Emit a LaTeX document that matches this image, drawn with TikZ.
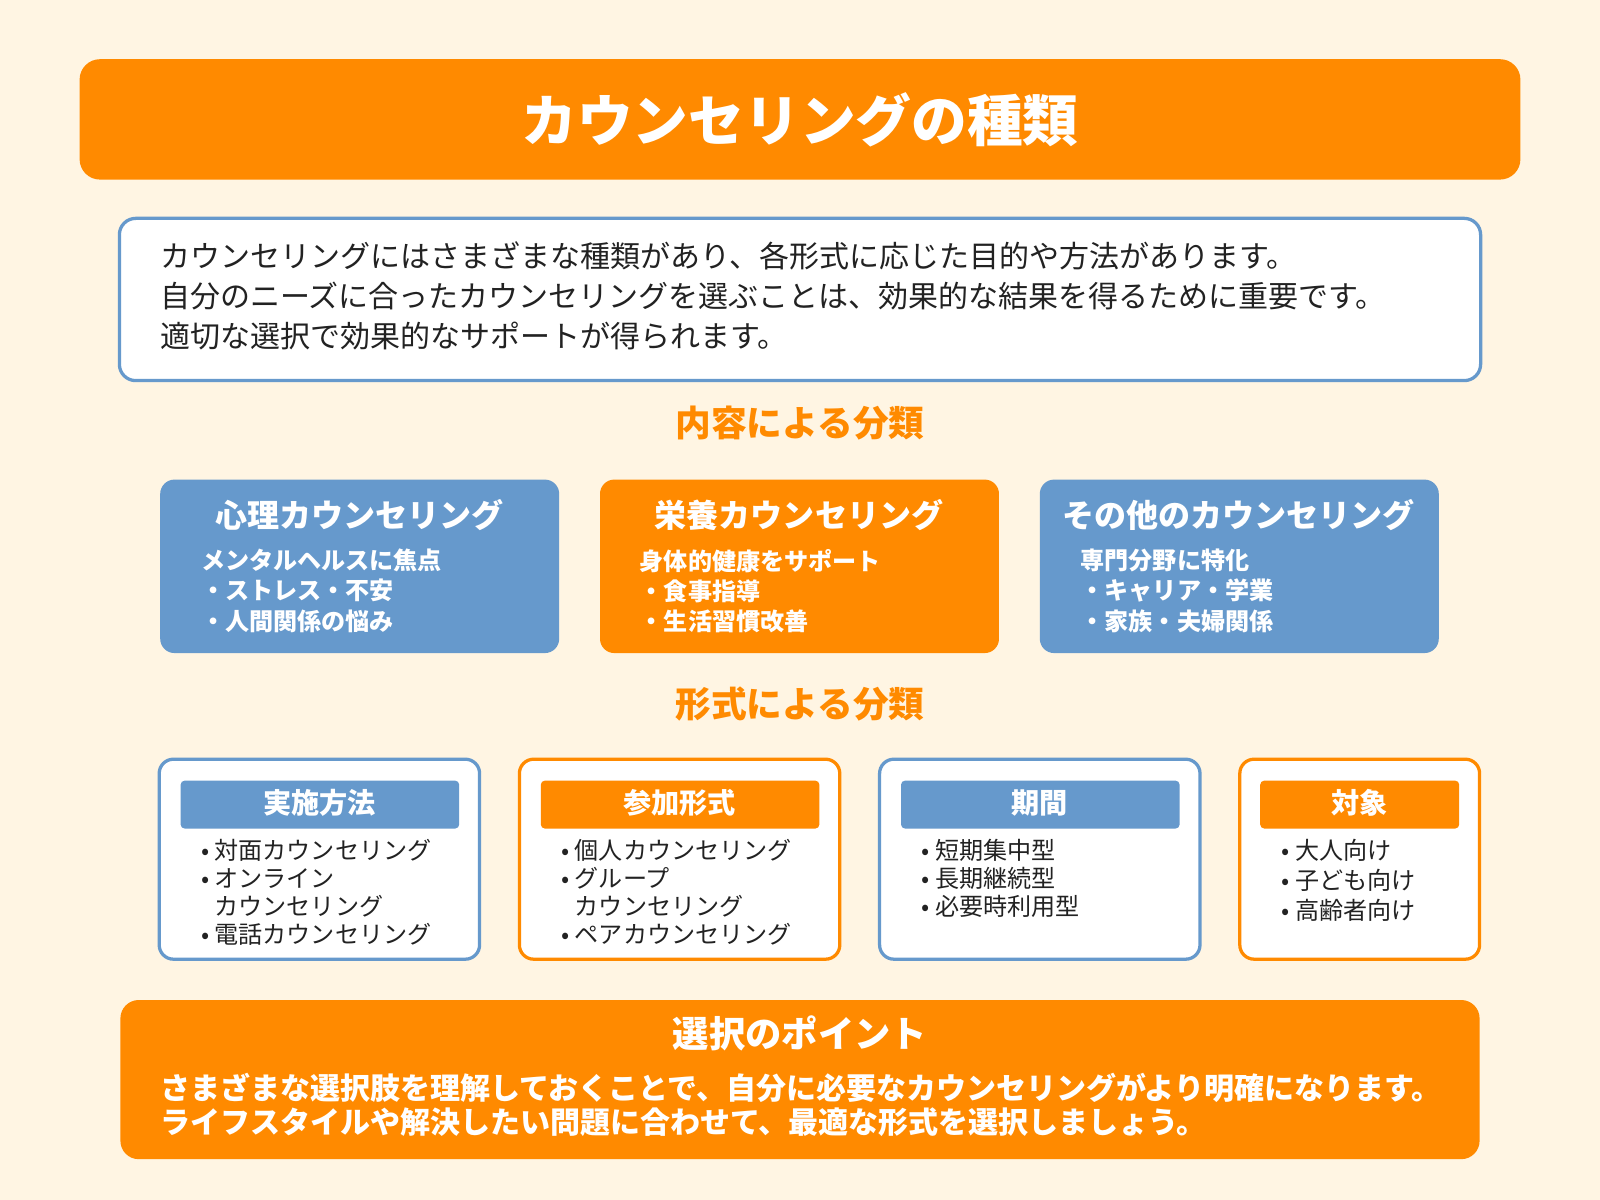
\documentclass[tikz,border=0pt]{standalone}
\usepackage{fontspec}
\setmainfont{Noto Sans CJK JP}
\definecolor{bg}{HTML}{FFF5E3}
\definecolor{org}{HTML}{FF8A00}
\definecolor{blu}{HTML}{6699CC}
\definecolor{txt}{HTML}{222222}
\begin{document}
\begin{tikzpicture}[x=0.5pt,y=-0.5pt,
  sec/.style={text=org,font=\fontsize{17.5}{20}\selectfont\bfseries},
  catbox/.style={rounded corners=7pt,draw=none},
  cattitle/.style={text=white,font=\fontsize{15.7}{18}\selectfont\bfseries},
  catbody/.style={text=white,anchor=north west,align=left,font=\fontsize{11.8}{14.8}\selectfont\bfseries},
  fbox/.style={rounded corners=7pt,fill=white,line width=1.6pt},
  fhead/.style={rounded corners=2pt,text=white,font=\fontsize{13.8}{15}\selectfont\bfseries},
  fbody/.style={text=txt,anchor=north west,align=left,font=\fontsize{11.8}{13.8}\selectfont}]
\fill[bg] (0,0) rectangle (1568,1176);
\useasboundingbox (0,0) rectangle (1568,1176);
\fill[org,rounded corners=10pt] (78,58) rectangle (1490,176);
\node[text=white,font=\fontsize{27.3}{30}\selectfont\bfseries] (title) at (784,117) {カウンセリングの種類};
\draw[blu,fill=white,line width=1.6pt,rounded corners=8pt] (117,214) rectangle (1451,373);
\node[anchor=north west,align=left,text=txt,font=\fontsize{14.7}{19.5}\selectfont] (desc) at (150,230) {カウンセリングにはさまざまな種類があり、各形式に応じた目的や方法があります。\\自分のニーズに合ったカウンセリングを選ぶことは、効果的な結果を得るために重要です。\\適切な選択で効果的なサポートが得られます。};
\node[sec] (s1) at (784,415) {内容による分類};
\node[sec] (s2) at (784,690) {形式による分類};
\fill[blu,catbox] (157,470) rectangle (548,640);
\fill[org,catbox] (588,470) rectangle (979,640);
\fill[blu,catbox] (1019,470) rectangle (1410,640);
\node[cattitle] (c1) at (352,505) {心理カウンセリング};
\node[cattitle] (c2) at (783,505) {栄養カウンセリング};
\node[cattitle] (c3) at (1214,505) {その他のカウンセリング};
\node[catbody] (b1) at (190,531) {メンタルヘルスに焦点\\・ストレス・不安\\・人間関係の悩み};
\node[catbody] (b2) at (620,531) {身体的健康をサポート\\・食事指導\\・生活習慣改善};
\node[catbody] (b3) at (1052,531) {専門分野に特化\\・キャリア・学業\\・家族・夫婦関係};
\draw[fbox,draw=blu] (156,744) rectangle (470,940);
\draw[fbox,draw=org] (509,744) rectangle (823,940);
\draw[fbox,draw=blu] (862,744) rectangle (1176,940);
\draw[fbox,draw=org] (1215,744) rectangle (1450,940);
\fill[blu,rounded corners=2pt] (177,765) rectangle (450,812);
\fill[org,rounded corners=2pt] (530,765) rectangle (803,812);
\fill[blu,rounded corners=2pt] (883,765) rectangle (1156,812);
\fill[org,rounded corners=2pt] (1235,765) rectangle (1430,812);
\node[fhead] (h1) at (313,787) {実施方法};
\node[fhead] (h2) at (666,787) {参加形式};
\node[fhead] (h3) at (1019,787) {期間};
\node[fhead] (h4) at (1332,787) {対象};
\node[fbody] (f1) at (190,815) {• 対面カウンセリング\\• オンライン\\\phantom{• }カウンセリング\\• 電話カウンセリング};
\node[fbody] (f2) at (543,815) {• 個人カウンセリング\\• グループ\\\phantom{• }カウンセリング\\• ペアカウンセリング};
\node[fbody] (f3) at (896,815) {• 短期集中型\\• 長期継続型\\• 必要時利用型};
\node[fbody,font=\fontsize{11.8}{14.8}\selectfont] (f4) at (1249,815) {• 大人向け\\• 子ども向け\\• 高齢者向け};
\fill[org,rounded corners=9pt] (118,980) rectangle (1450,1136);
\node[text=white,font=\fontsize{17.8}{20}\selectfont\bfseries] (pt) at (784,1013) {選択のポイント};
\node[text=white,anchor=north west,align=left,font=\fontsize{14.7}{16.5}\selectfont\bfseries] (ptb) at (150,1045) {さまざまな選択肢を理解しておくことで、自分に必要なカウンセリングがより明確になります。\\ライフスタイルや解決したい問題に合わせて、最適な形式を選択しましょう。};
\end{tikzpicture}
\end{document}
